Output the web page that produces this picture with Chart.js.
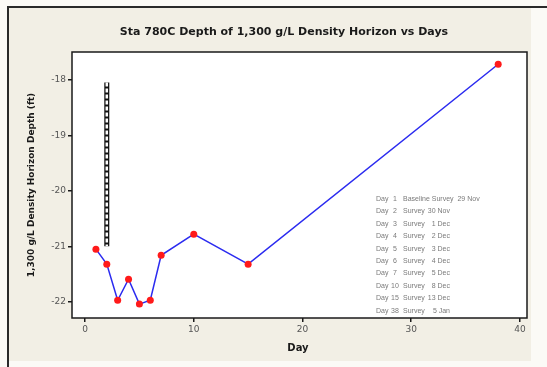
<!DOCTYPE html>
<html>
<head>
<meta charset="utf-8">
<script src="https://cdn.jsdelivr.net/npm/chart.js@4.4.1/dist/chart.umd.min.js"></script>
<style>
  html, body { margin: 0; padding: 0; background: #fbfaf6; }
  #wrap { width: 547px; height: 367px; }
</style>
</head>
<body>
<div id="wrap"><canvas id="depthChart" width="547" height="367"></canvas></div>
<script>
const ctx = document.getElementById('depthChart').getContext('2d');

// survey days and depth of the 1,300 g/L horizon
const days = [1, 2, 3, 4, 5, 6, 7, 10, 15, 38];
const depths = [-21.05, -21.32, -21.97, -21.59, -22.04, -21.97, -21.16, -20.78, -21.32, -17.72];

// vertical reference bar at day 2
const barDays = [2, 2];
const barDepths = [-18.05, -21.0];

const xTicks = [0, 10, 20, 30, 40];
const yTicks = [-22, -21, -20, -19, -18];

const surveyNotes = [
  ['Day', '1', 'Baseline Survey  29 Nov', ''],
  ['Day', '2', 'Survey', '30 Nov'],
  ['Day', '3', 'Survey', '1 Dec'],
  ['Day', '4', 'Survey', '2 Dec'],
  ['Day', '5', 'Survey', '3 Dec'],
  ['Day', '6', 'Survey', '4 Dec'],
  ['Day', '7', 'Survey', '5 Dec'],
  ['Day', '10', 'Survey', '8 Dec'],
  ['Day', '15', 'Survey', '13 Dec'],
  ['Day', '38', 'Survey', '5 Jan']
];

const titleText = 'Sta 780C Depth of 1,300 g/L Density Horizon vs Days';
const xTitle = 'Day';
const yTitle = '1,300 g/L Density Horizon Depth (ft)';

const toPoints = (xs, ys) => xs.map((x, i) => ({ x: x, y: ys[i] }));

// background, frame, titles and the survey notes
const decor = {
  id: 'decor',
  beforeDraw(chart) {
    const c = chart.ctx;
    const a = chart.chartArea;
    c.save();
    c.fillStyle = '#fbfaf6';
    c.fillRect(0, 0, chart.width, chart.height);
    c.fillStyle = '#f2efe5';
    c.fillRect(8, 7, 523, 354);
    c.strokeStyle = '#2a2a2a';
    c.lineWidth = 2;
    c.beginPath();
    c.moveTo(8, 367);
    c.lineTo(8, 7);
    c.lineTo(547, 7);
    c.stroke();
    c.fillStyle = '#ffffff';
    c.fillRect(a.left, a.top, a.right - a.left, a.bottom - a.top);
    c.restore();
  },
  afterDraw(chart) {
    const c = chart.ctx;
    const a = chart.chartArea;
    c.save();
    c.strokeStyle = '#1a1a1a';
    c.lineWidth = 1.5;
    c.strokeRect(a.left, a.top, a.right - a.left, a.bottom - a.top);

    c.fillStyle = '#1a1a1a';
    c.textAlign = 'center';
    c.textBaseline = 'middle';
    c.font = 'bold 11px "DejaVu Sans"';
    c.fillText(titleText, 284, 32);
    c.font = 'bold 10px "DejaVu Sans"';
    c.fillText(xTitle, 298, 348);
    c.translate(32, 185);
    c.rotate(-Math.PI / 2);
    c.font = 'bold 9px "DejaVu Sans"';
    c.fillText(yTitle, 0, 0);
    c.restore();

    c.save();
    c.fillStyle = '#7a7a7a';
    c.font = '7px "Liberation Sans"';
    c.textBaseline = 'middle';
    surveyNotes.forEach((row, i) => {
      const y = 199 + i * 12.4;
      c.textAlign = 'left';
      c.fillText(row[0], 376, y);
      c.textAlign = 'center';
      c.fillText(row[1], 395, y);
      c.textAlign = 'left';
      c.fillText(row[2], 403, y);
      c.textAlign = 'right';
      c.fillText(row[3], 450, y);
    });
    c.restore();
  }
};

new Chart(ctx, {
  type: 'line',
  data: {
    datasets: [
      {
        data: toPoints(barDays, barDepths),
        borderColor: '#111111',
        borderWidth: 5,
        pointRadius: 0,
        order: 2
      },
      {
        data: toPoints(barDays, barDepths),
        borderColor: '#ffffff',
        borderWidth: 2.5,
        borderDash: [4, 2],
        pointRadius: 0,
        order: 1
      },
      {
        data: toPoints(days, depths),
        borderColor: '#2b2bf0',
        borderWidth: 1.5,
        tension: 0,
        pointRadius: 3.5,
        pointBackgroundColor: '#ff1a1a',
        pointBorderColor: '#ff1a1a',
        pointBorderWidth: 0,
        order: 0
      }
    ]
  },
  options: {
    responsive: false,
    animation: false,
    layout: { padding: { left: 0, top: 52, right: 20, bottom: 0 } },
    plugins: { legend: { display: false }, tooltip: { enabled: false } },
    scales: {
      x: {
        type: 'linear',
        min: -1.2,
        max: 40.65,
        afterBuildTicks: s => { s.ticks = xTicks.map(v => ({ value: v })); },
        afterFit: s => { s.height = 49; },
        grid: { drawOnChartArea: false, drawTicks: true, tickLength: 4, color: '#1a1a1a', lineWidth: 1.5 },
        border: { display: false },
        ticks: { color: '#555555', font: { family: 'DejaVu Sans', size: 9 }, padding: 2, maxRotation: 0 }
      },
      y: {
        type: 'linear',
        min: -22.29,
        max: -17.5,
        afterBuildTicks: s => { s.ticks = yTicks.map(v => ({ value: v })); },
        afterFit: s => { s.width = 72; },
        grid: { drawOnChartArea: false, drawTicks: true, tickLength: 4, color: '#1a1a1a', lineWidth: 1.5 },
        border: { display: false },
        ticks: { color: '#555555', font: { family: 'DejaVu Sans', size: 9 }, padding: 2 }
      }
    }
  },
  plugins: [decor]
});
</script>
</body>
</html>
